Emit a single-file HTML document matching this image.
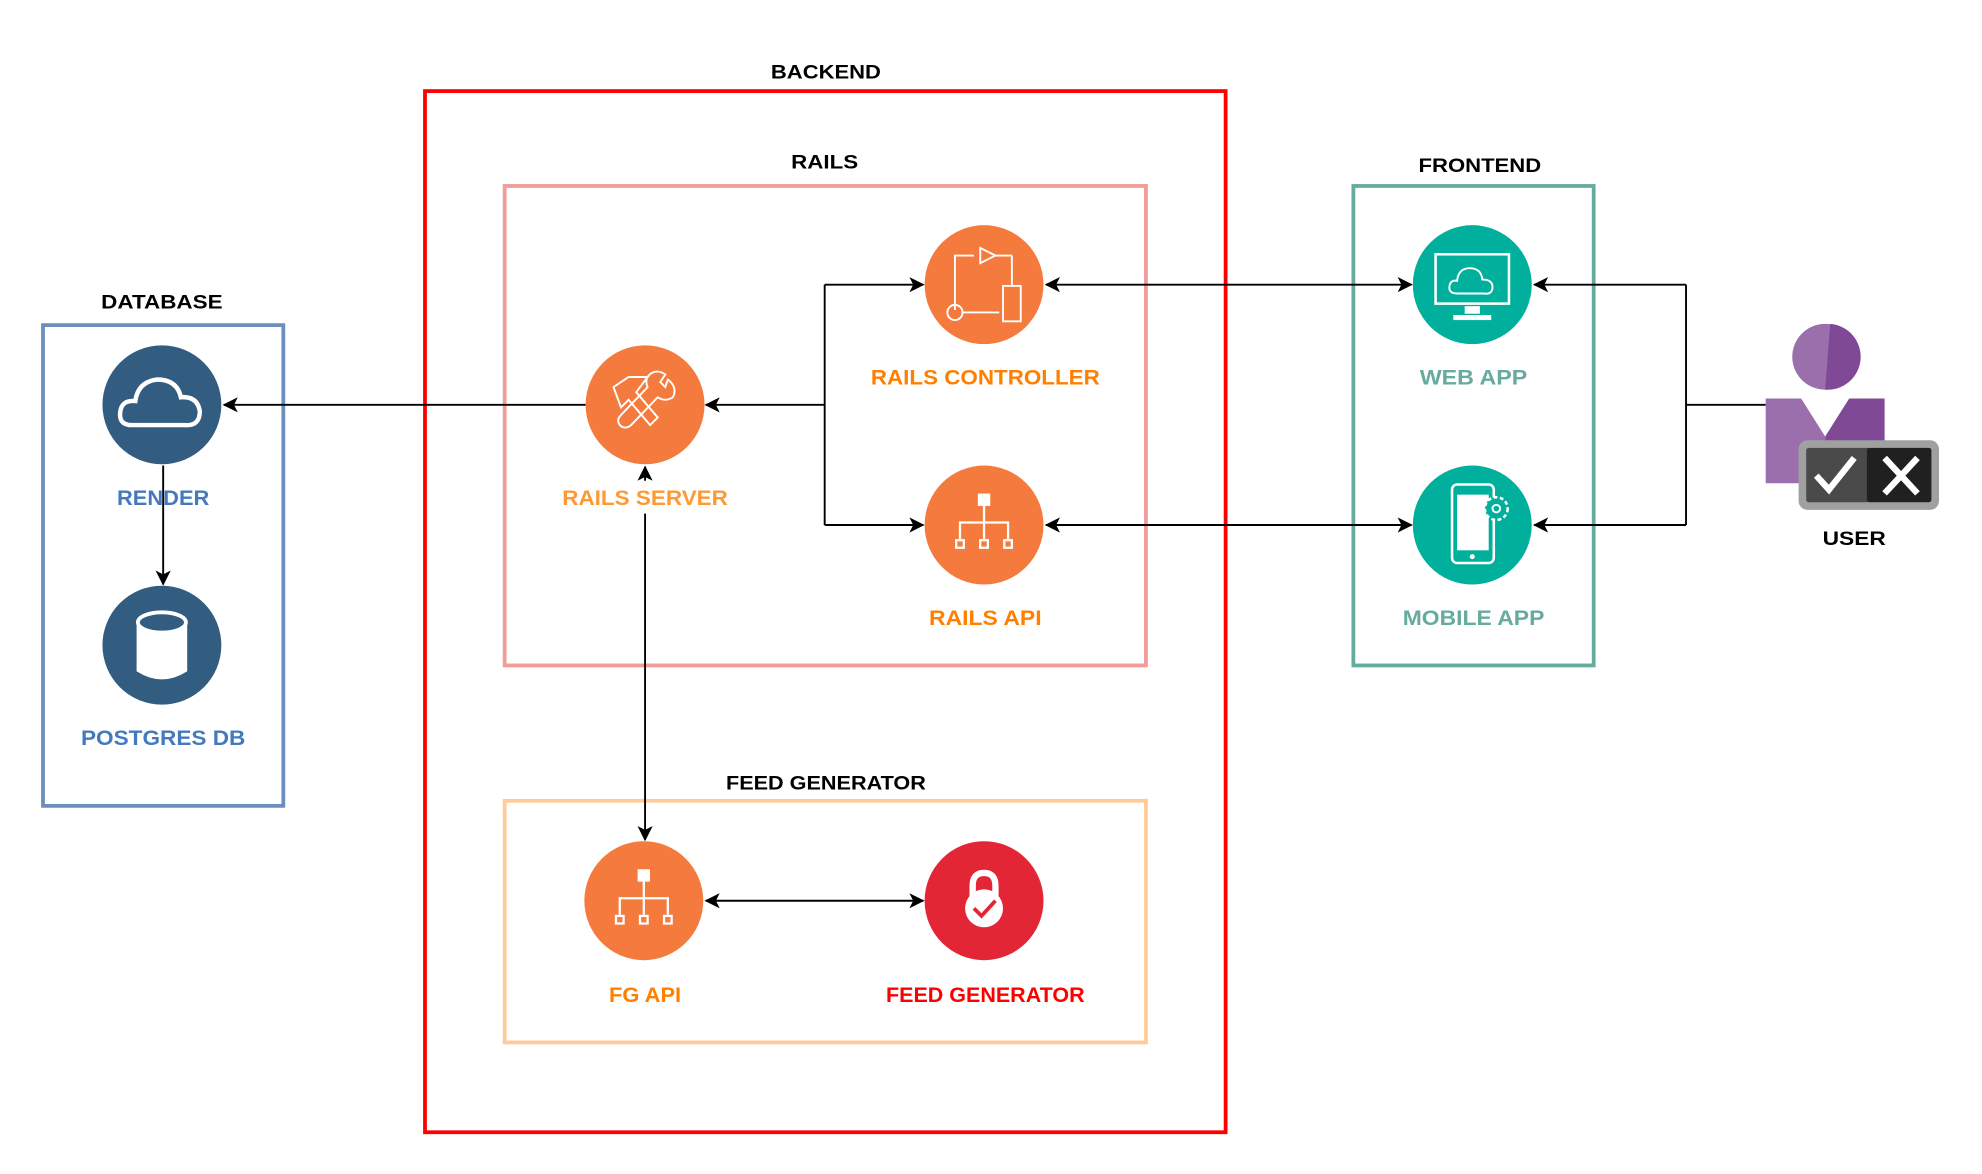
<!DOCTYPE html>
<html><head><meta charset="utf-8"><style>
html,body{margin:0;padding:0;background:#fff;}
svg{display:block;}
text{font-family:"Liberation Sans",Arial,sans-serif;font-weight:bold;text-anchor:middle;}
</style></head><body>
<svg width="1982" height="1174" viewBox="0 0 1567 928" preserveAspectRatio="none" xmlns="http://www.w3.org/2000/svg">
<defs>
<marker id="a" viewBox="0 0 12 12" refX="11" refY="6" markerWidth="12" markerHeight="12" markerUnits="userSpaceOnUse" orient="auto-start-reverse">
<path d="M0,0 L12,6 L0,12 L3,6 Z" fill="#000"/>
</marker>
</defs>
<rect x="0" y="0" width="1567" height="928" fill="#fff"/>

<!-- containers -->
<rect x="336" y="72" width="633" height="823" fill="none" stroke="#ff0000" stroke-width="3"/>
<rect x="399" y="147" width="507" height="379" fill="none" stroke="#f19c99" stroke-width="3"/>
<rect x="399" y="633" width="507" height="191" fill="none" stroke="#ffcc99" stroke-width="3"/>
<rect x="34" y="257" width="190" height="380" fill="none" stroke="#6c8ebf" stroke-width="3"/>
<rect x="1070" y="147" width="190" height="379" fill="none" stroke="#67ab9f" stroke-width="3"/>

<!-- container labels -->
<text x="653" y="62" font-size="15" textLength="87" lengthAdjust="spacingAndGlyphs">BACKEND</text>
<text x="652" y="133" font-size="15" textLength="53" lengthAdjust="spacingAndGlyphs">RAILS</text>
<text x="653" y="624" font-size="15" textLength="158" lengthAdjust="spacingAndGlyphs">FEED GENERATOR</text>
<text x="128" y="244" font-size="15" textLength="96" lengthAdjust="spacingAndGlyphs">DATABASE</text>
<text x="1170" y="136" font-size="15" textLength="97" lengthAdjust="spacingAndGlyphs">FRONTEND</text>
<text x="1466" y="431" font-size="15" textLength="50" lengthAdjust="spacingAndGlyphs">USER</text>

<!-- connectors -->
<g stroke="#000" stroke-width="1.5" fill="none">
<line x1="463" y1="320" x2="177" y2="320" marker-end="url(#a)"/>
<line x1="129" y1="368" x2="129" y2="462" marker-end="url(#a)"/>
<line x1="652" y1="320" x2="558" y2="320" marker-end="url(#a)"/>
<polyline points="652,225 652,415"/>
<line x1="652" y1="225" x2="730" y2="225" marker-end="url(#a)"/>
<line x1="652" y1="415" x2="730" y2="415" marker-end="url(#a)"/>
<line x1="827" y1="225" x2="1116" y2="225" marker-start="url(#a)" marker-end="url(#a)"/>
<line x1="827" y1="415" x2="1116" y2="415" marker-start="url(#a)" marker-end="url(#a)"/>
<polyline points="1396,320 1333,320"/>
<polyline points="1333,225 1333,415"/>
<line x1="1333" y1="225" x2="1213" y2="225" marker-end="url(#a)"/>
<line x1="1333" y1="415" x2="1213" y2="415" marker-end="url(#a)"/>
<line x1="510" y1="380" x2="510" y2="369" marker-end="url(#a)"/>
<line x1="510" y1="406" x2="510" y2="664" marker-end="url(#a)"/>
<line x1="558" y1="712" x2="730" y2="712" marker-start="url(#a)" marker-end="url(#a)"/>
</g>

<!-- circles -->
<circle cx="128" cy="320" r="47" fill="#335d80"/>
<circle cx="128" cy="510" r="47" fill="#335d80"/>
<circle cx="510" cy="320" r="47" fill="#f47b3d"/>
<circle cx="778" cy="225" r="47" fill="#f47b3d"/>
<circle cx="778" cy="415" r="47" fill="#f47b3d"/>
<circle cx="509" cy="712" r="47" fill="#f47b3d"/>
<circle cx="778" cy="712" r="47" fill="#e32636"/>
<circle cx="1164" cy="225" r="47" fill="#00b09c"/>
<circle cx="1164" cy="415" r="47" fill="#00b09c"/>

<!-- icons -->
<!-- cloud -->
<path d="M104,336 Q94,336 95,326 Q96,316 107,317 Q109,302 124,300 Q140,300 143,314 Q156,313 158,325 Q158,337 146,336 Z" fill="none" stroke="#fff" stroke-width="3.5"/>
<!-- db cylinder -->
<path d="M109,493 L109,530 Q128,542 147,530 L147,493" fill="#fff" stroke="#fff" stroke-width="2"/>
<ellipse cx="128" cy="492" rx="19" ry="8" fill="#335d80" stroke="#fff" stroke-width="3"/>
<!-- tools -->
<g stroke="#fff" stroke-width="1.5" fill="none">
<path d="M485,306 L497,298 L512,298 L503,310 L520,330 L514,336 L497,316 L491,322 Z"/>
<path d="M528,300 Q536,306 532,314 Q526,318 520,314 L499,336 Q494,340 490,336 Q487,332 491,328 L512,306 Q509,299 515,295 Q520,292 526,296 L522,302 L526,306 Z"/>
</g>
<!-- controller -->
<g stroke="#fff" stroke-width="1.5" fill="none">
<polyline points="755,245 755,202 770,202"/>
<polygon points="775,196 787,202 775,208"/>
<circle cx="755" cy="247" r="6"/>
<line x1="761" y1="247" x2="790" y2="247"/>
<rect x="793" y="226" width="14" height="28"/>
<line x1="787" y1="202" x2="800" y2="202"/><line x1="800" y1="202" x2="800" y2="226"/>
</g>
<!-- hierarchy api -->
<g stroke="#fff" stroke-width="1.8" fill="none">
<rect x="774" y="391" width="8" height="8" fill="#fff"/>
<polyline points="778,399 778,426"/>
<polyline points="759,426 759,413 797,413 797,426"/>
<rect x="756" y="427" width="6" height="6"/><rect x="775" y="427" width="6" height="6"/><rect x="794" y="427" width="6" height="6"/>
</g>
<g stroke="#fff" stroke-width="1.8" fill="none">
<rect x="505" y="688" width="8" height="8" fill="#fff"/>
<polyline points="509,696 509,723"/>
<polyline points="490,723 490,710 528,710 528,723"/>
<rect x="487" y="724" width="6" height="6"/><rect x="506" y="724" width="6" height="6"/><rect x="525" y="724" width="6" height="6"/>
</g>
<!-- lock -->
<path d="M769,712 L769,700 Q769,690 778,690 Q787,690 787,700 L787,712" fill="none" stroke="#fff" stroke-width="5"/>
<circle cx="778" cy="718" r="15" fill="#fff"/>
<polyline points="770,718 776,724 787,712" fill="none" stroke="#e32636" stroke-width="3"/>
<!-- monitor -->
<g stroke="#fff" stroke-width="2" fill="none">
<rect x="1135" y="201" width="58" height="39"/>
<path d="M1152,232 Q1145,232 1146,226 Q1147,221 1152,222 Q1153,212 1162,212 Q1171,212 1172,221 Q1180,221 1180,227 Q1180,233 1173,232 Z" stroke-width="1.5"/>
</g>
<rect x="1158" y="242" width="12" height="6" fill="#fff"/>
<rect x="1149" y="249" width="30" height="4" fill="#fff"/>
<!-- phone -->
<g stroke="#fff" stroke-width="2" fill="none">
<rect x="1148" y="383" width="33" height="62" rx="4"/>
</g>
<rect x="1152" y="391" width="25" height="44" fill="#fff"/>
<circle cx="1164" cy="440" r="2" fill="#fff"/>
<circle cx="1183" cy="402" r="9" fill="#00b09c" stroke="#fff" stroke-width="2" stroke-dasharray="3 2"/>
<circle cx="1183" cy="402" r="3" fill="none" stroke="#fff" stroke-width="1.5"/>

<!-- user icon -->
<circle cx="1443" cy="282" r="26" fill="#9b6eac"/>
<path d="M1447,256 A26,26 0 0 1 1443,308 Z" fill="#7f4996"/>
<path d="M1396,315 L1424,315 L1443,345 L1443,382 L1396,382 Z" fill="#9b6eac"/>
<path d="M1462,315 L1490,315 L1490,382 L1443,382 L1443,345 Z" fill="#7f4996"/>
<rect x="1422" y="348" width="111" height="55" rx="7" fill="#a0a0a0"/>
<rect x="1428" y="354" width="50" height="43" rx="2" fill="#4a4a4a"/>
<rect x="1476" y="354" width="51" height="43" rx="2" fill="#202020"/>
<polyline points="1436,376 1446,387 1466,362" fill="none" stroke="#fff" stroke-width="5"/>
<path d="M1490,362 L1516,390 M1516,362 L1490,390" stroke="#fff" stroke-width="5"/>

<!-- node labels -->
<text x="129" y="399" font-size="17" fill="#4479be" textLength="73" lengthAdjust="spacingAndGlyphs">RENDER</text>
<text x="129" y="589" font-size="17" fill="#4479be" textLength="130" lengthAdjust="spacingAndGlyphs">POSTGRES DB</text>
<text x="510" y="399" font-size="17" fill="#ff9933" textLength="131" lengthAdjust="spacingAndGlyphs">RAILS SERVER</text>
<text x="779" y="304" font-size="17" fill="#ff8000" textLength="181" lengthAdjust="spacingAndGlyphs">RAILS CONTROLLER</text>
<text x="779" y="494" font-size="17" fill="#ff8000" textLength="89" lengthAdjust="spacingAndGlyphs">RAILS API</text>
<text x="510" y="792" font-size="17" fill="#ff8000" textLength="57" lengthAdjust="spacingAndGlyphs">FG API</text>
<text x="779" y="792" font-size="17" fill="#ff0000" textLength="157" lengthAdjust="spacingAndGlyphs">FEED GENERATOR</text>
<text x="1165" y="304" font-size="17" fill="#67ab9f" textLength="85" lengthAdjust="spacingAndGlyphs">WEB APP</text>
<text x="1165" y="494" font-size="17" fill="#67ab9f" textLength="112" lengthAdjust="spacingAndGlyphs">MOBILE APP</text>
</svg>
</body></html>
